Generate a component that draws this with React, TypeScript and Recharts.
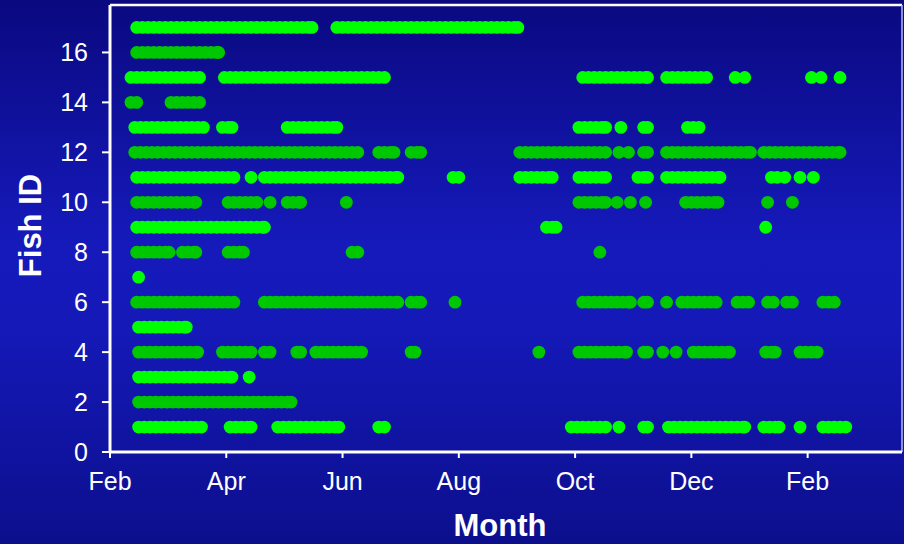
import { ScatterChart, Scatter, XAxis, YAxis, Label, ReferenceLine } from 'recharts';

// Detection days per fish (day 0 = 1 Feb)
const fish1 = [15, 18, 21, 24, 27, 30, 33, 36, 39, 42, 45, 48, 63, 66, 69, 72, 74, 88, 91, 94, 97, 100, 103, 106, 109, 112, 115, 118, 120, 141, 144, 242, 245, 248, 251, 254, 257, 260, 267, 280, 282, 293, 296, 299, 302, 305, 308, 311, 314, 317, 320, 323, 326, 329, 332, 333, 343, 346, 349, 351, 362, 374, 377, 380, 383, 386];
const fish2 = [15, 18, 21, 24, 27, 30, 33, 36, 39, 42, 45, 48, 51, 54, 57, 60, 63, 66, 69, 72, 75, 78, 81, 84, 87, 90, 93, 95];
const fish3 = [15, 18, 21, 24, 27, 30, 33, 36, 39, 42, 45, 48, 51, 54, 57, 60, 63, 64, 73];
const fish4 = [15, 18, 21, 24, 27, 30, 33, 36, 39, 42, 45, 46, 59, 62, 65, 68, 71, 74, 81, 84, 98, 100, 108, 111, 114, 117, 120, 123, 126, 129, 132, 158, 160, 225, 246, 249, 252, 255, 258, 261, 264, 267, 270, 271, 280, 282, 290, 297, 306, 309, 312, 315, 318, 321, 324, 325, 344, 347, 349, 362, 365, 368, 371];
const fish5 = [15, 18, 21, 24, 27, 30, 33, 36, 39, 40];
const fish6 = [14, 17, 20, 23, 26, 29, 32, 35, 38, 41, 44, 47, 50, 53, 56, 59, 62, 65, 81, 84, 87, 90, 93, 96, 99, 102, 105, 108, 111, 114, 117, 120, 123, 126, 129, 132, 135, 138, 141, 144, 147, 150, 151, 158, 161, 163, 181, 248, 251, 254, 257, 260, 263, 266, 269, 272, 273, 280, 282, 292, 300, 303, 306, 309, 312, 315, 318, 329, 332, 335, 345, 348, 355, 358, 374, 377, 380];
const fish7 = [15];
const fish8 = [14, 17, 20, 23, 26, 29, 31, 38, 41, 44, 45, 62, 65, 68, 70, 127, 130, 257];
const fish9 = [14, 17, 20, 23, 26, 29, 32, 35, 38, 41, 44, 47, 50, 53, 56, 59, 62, 65, 68, 71, 74, 77, 80, 81, 229, 232, 234, 344];
const fish10 = [14, 17, 20, 23, 26, 29, 32, 35, 38, 41, 44, 45, 62, 65, 68, 71, 74, 77, 84, 93, 96, 99, 100, 124, 246, 249, 252, 255, 258, 260, 266, 273, 281, 302, 305, 308, 311, 314, 317, 319, 345, 358];
const fish11 = [14, 17, 20, 23, 26, 29, 32, 35, 38, 41, 44, 47, 50, 53, 56, 59, 62, 65, 74, 81, 84, 87, 90, 93, 96, 99, 102, 105, 108, 111, 114, 117, 120, 123, 126, 129, 132, 135, 138, 141, 144, 147, 150, 151, 180, 183, 215, 218, 221, 224, 227, 230, 232, 246, 249, 252, 255, 258, 260, 277, 280, 282, 292, 295, 298, 301, 304, 307, 310, 313, 316, 319, 320, 347, 350, 354, 362, 369];
const fish12 = [13, 16, 19, 22, 25, 28, 31, 34, 37, 40, 43, 46, 49, 52, 55, 58, 61, 64, 67, 70, 73, 76, 79, 82, 85, 88, 91, 94, 97, 100, 103, 106, 109, 112, 115, 118, 121, 124, 127, 130, 141, 144, 147, 149, 158, 161, 163, 215, 218, 221, 224, 227, 230, 233, 236, 239, 242, 245, 248, 251, 254, 257, 260, 267, 272, 280, 282, 292, 295, 298, 301, 304, 307, 310, 313, 316, 319, 322, 325, 328, 331, 334, 336, 343, 346, 349, 352, 355, 358, 361, 364, 367, 370, 373, 376, 379, 382, 383];
const fish13 = [13, 16, 19, 22, 25, 28, 31, 34, 37, 40, 43, 46, 49, 59, 62, 64, 93, 96, 99, 102, 105, 108, 111, 114, 117, 119, 246, 249, 252, 255, 258, 260, 268, 280, 282, 303, 306, 309];
const fish14 = [11, 14, 32, 35, 38, 41, 44, 47];
const fish15 = [11, 14, 17, 20, 23, 26, 29, 32, 35, 38, 41, 44, 47, 60, 63, 66, 69, 72, 75, 78, 81, 84, 87, 90, 93, 96, 99, 102, 105, 108, 111, 114, 117, 120, 123, 126, 129, 132, 135, 138, 141, 144, 248, 251, 254, 257, 260, 263, 266, 269, 272, 275, 278, 281, 282, 292, 295, 298, 301, 304, 307, 310, 313, 328, 333, 368, 373, 383];
const fish16 = [14, 17, 20, 23, 26, 29, 32, 35, 38, 41, 44, 47, 50, 53, 56, 57];
const fish17 = [14, 17, 20, 23, 26, 29, 32, 35, 38, 41, 44, 47, 50, 53, 56, 59, 62, 65, 68, 71, 74, 77, 80, 83, 86, 89, 92, 95, 98, 101, 104, 106, 119, 122, 125, 128, 131, 134, 137, 140, 143, 146, 149, 152, 155, 158, 161, 164, 167, 170, 173, 176, 179, 182, 185, 188, 191, 194, 197, 200, 203, 206, 209, 212, 214];

const DAY_TICKS = [0, 61, 122, 183, 244, 305, 366];
const MONTH_LABELS = ['Feb', 'Apr', 'Jun', 'Aug', 'Oct', 'Dec', 'Feb'];
const FISH_TICKS = [0, 2, 4, 6, 8, 10, 12, 14, 16];
const X_MAX = 415.5;
const Y_MAX = 17.9;

const ALL_FISH = [fish1, fish2, fish3, fish4, fish5, fish6, fish7, fish8, fish9, fish10, fish11, fish12, fish13, fish14, fish15, fish16, fish17];

const COLORS = {
  odd: '#00ff00',
  even: '#00c800'
} as const;

const FONT = '"Liberation Sans", Arial, sans-serif';
const tickStyle = { fill: '#ffffff', fontSize: 25, fontFamily: FONT };

export default function App() {
  const series = ALL_FISH.map((days, i) => ({
    id: i + 1,
    color: (i + 1) % 2 === 1 ? COLORS.odd : COLORS.even,
    data: days.map(d => ({ day: d, fish: i + 1 }))
  }));

  return (
    <div
      style={{
        position: 'absolute',
        left: 0,
        top: 0,
        width: 904,
        height: 544,
        background: 'linear-gradient(to bottom, #0a0980 0%, #161abb 45%, #1519b8 60%, #0c0f8c 100%)'
      }}
    >
      <ScatterChart width={904} height={544} margin={{ top: 5, right: 2, bottom: 0, left: 0 }}>
        <XAxis
          type="number"
          dataKey="day"
          domain={[0, X_MAX]}
          ticks={DAY_TICKS}
          interval={0}
          tickFormatter={(v: number) => MONTH_LABELS[DAY_TICKS.indexOf(v)] ?? ''}
          height={92}
          tick={tickStyle}
          tickSize={6}
          tickMargin={14}
          axisLine={{ stroke: '#ffffff', strokeWidth: 3 }}
          tickLine={{ stroke: '#ffffff', strokeWidth: 2 }}
        >
          <Label
            content={(props: any) => {
              const vb = props.viewBox || {};
              const cx = vb.x + vb.width / 2 - 6;
              return (
                <text x={cx} y={vb.y + 84} textAnchor="middle" fill="#ffffff"
                  style={{ fontFamily: FONT, fontSize: 31, fontWeight: 'bold' }}>
                  Month
                </text>
              );
            }}
          />
        </XAxis>
        <YAxis
          type="number"
          dataKey="fish"
          domain={[0, Y_MAX]}
          ticks={FISH_TICKS}
          interval={0}
          width={110}
          tick={tickStyle}
          tickSize={8}
          tickMargin={14}
          axisLine={{ stroke: '#ffffff', strokeWidth: 3 }}
          tickLine={{ stroke: '#ffffff', strokeWidth: 2 }}
        >
          <Label
            content={(props: any) => {
              const vb = props.viewBox || {};
              const cx = 30;
              const cy = vb.y + vb.height / 2 - 3;
              return (
                <text x={cx} y={cy} transform={`rotate(-90 ${cx} ${cy})`} textAnchor="middle"
                  dominantBaseline="central" fill="#ffffff"
                  style={{ fontFamily: FONT, fontSize: 31, fontWeight: 'bold' }}>
                  Fish ID
                </text>
              );
            }}
          />
        </YAxis>
        {/* plot frame: white top edge, thin lavender right edge */}
        <ReferenceLine y={Y_MAX} stroke="#ffffff" strokeWidth={2.5} />
        <ReferenceLine x={X_MAX} stroke="#b8b8f0" strokeWidth={1.5} />
        {series.map(s => (
          <Scatter
            key={s.id}
            data={s.data}
            isAnimationActive={false}
            shape={(p: any) => <circle cx={p.cx} cy={p.cy} r={6.4} fill={s.color} />}
          />
        ))}
      </ScatterChart>
    </div>
  );
}
